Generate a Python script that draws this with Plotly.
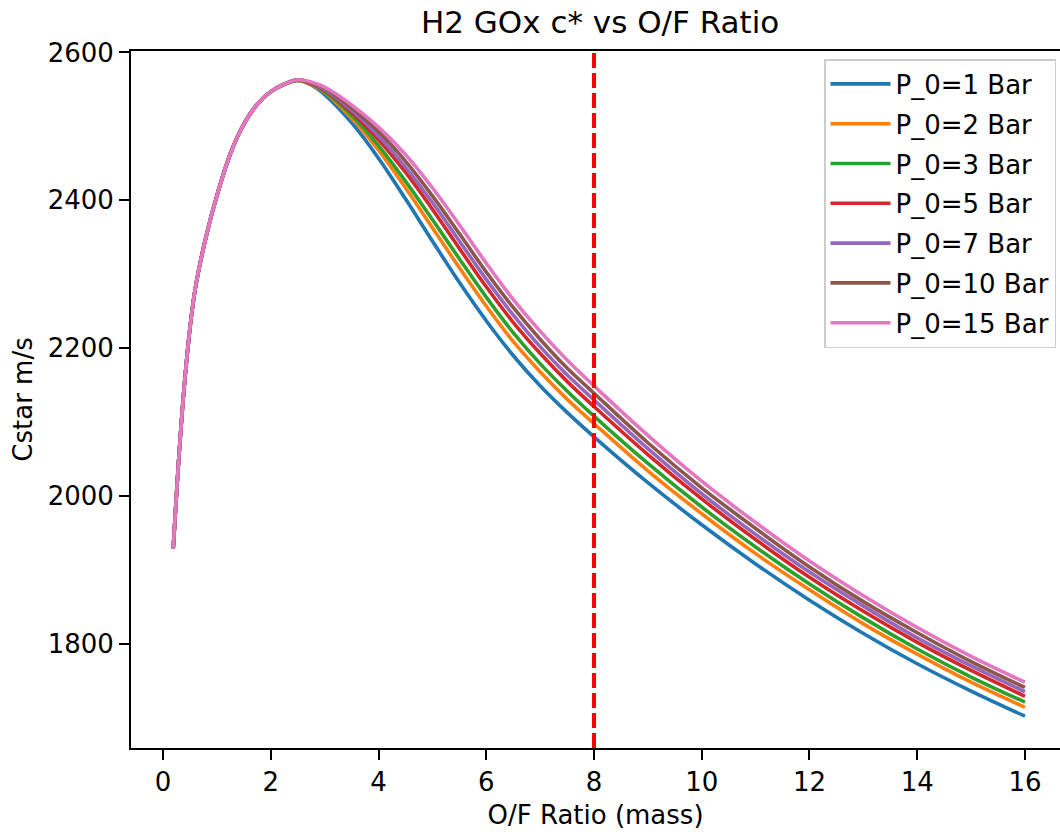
import plotly.graph_objects as go

# O/F mass ratios shared by every chamber-pressure sweep
of_ratio = [0.19, 0.3, 0.4, 0.5, 0.6, 0.8, 1.0, 1.25, 1.5, 1.75, 2.0, 2.25,
            2.5, 2.75, 3.0, 3.5, 4.0, 4.5, 5.0, 5.5, 6.0, 6.5, 7.0, 7.5, 8.0,
            9.0, 10.0, 11.0, 12.0, 13.0, 14.0, 15.0, 16.0]

# fuel-rich branch (O/F 0.19 .. 2.25): identical for all pressures
cstar_rich = [1929, 2058, 2153, 2227, 2281, 2351, 2406, 2463, 2503, 2530, 2547, 2557]

# c* (m/s) from O/F 2.5 upward, one list per chamber pressure
cstar_p1 = [2562, 2556, 2543, 2505, 2457, 2402, 2345, 2289, 2237, 2190, 2149, 2113, 2080,
            2018, 1961, 1908, 1859, 1814, 1773, 1736, 1702]
cstar_p2 = [2562, 2557, 2546, 2511, 2468, 2417, 2363, 2309, 2257, 2209, 2168, 2131, 2098,
            2034, 1976, 1922, 1873, 1827, 1786, 1748, 1714]
cstar_p3 = [2562, 2558, 2547, 2515, 2474, 2426, 2374, 2321, 2269, 2221, 2179, 2142, 2108,
            2044, 1985, 1931, 1881, 1835, 1793, 1755, 1721]
cstar_p5 = [2563, 2558, 2549, 2519, 2482, 2438, 2388, 2335, 2283, 2235, 2193, 2155, 2121,
            2056, 1996, 1941, 1890, 1844, 1802, 1764, 1729]
cstar_p7 = [2563, 2559, 2550, 2522, 2487, 2445, 2397, 2345, 2293, 2245, 2202, 2164, 2130,
            2064, 2003, 1948, 1897, 1851, 1808, 1770, 1735]
cstar_p10 = [2563, 2559, 2552, 2525, 2493, 2453, 2406, 2355, 2303, 2255, 2212, 2173, 2139,
             2072, 2011, 1956, 1904, 1857, 1815, 1776, 1741]
cstar_p15 = [2563, 2560, 2553, 2529, 2499, 2462, 2417, 2367, 2315, 2266, 2223, 2184, 2149,
             2082, 2020, 1964, 1912, 1865, 1822, 1783, 1748]

pressures_bar = [1, 2, 3, 5, 7, 10, 15]
series = [cstar_p1, cstar_p2, cstar_p3, cstar_p5, cstar_p7, cstar_p10, cstar_p15]
colors = ["#1f77b4", "#ff7f0e", "#2ca02c", "#d62728", "#9467bd", "#8c564b", "#e377c2"]

STOICH_OF = 8  # stoichiometric H2/O2 mass ratio

x_ticks = [0, 2, 4, 6, 8, 10, 12, 14, 16]
y_ticks = [1800, 2000, 2200, 2400, 2600]

FONT = "DejaVu Sans"

fig = go.Figure()
for p, tail, col in zip(pressures_bar, series, colors):
    fig.add_trace(go.Scatter(
        x=of_ratio,
        y=cstar_rich + tail,
        mode="lines",
        name=f"P_0={p} Bar",
        legendgroup=f"p{p}",
        line=dict(color=col, width=3.6, shape="spline", smoothing=1.0),
    ))

fig.add_vline(x=STOICH_OF, line=dict(color="#ff0000", width=4, dash="15px,5px"))

axis_common = dict(
    showgrid=False, zeroline=False, showline=True, linecolor="black", linewidth=2,
    ticks="outside", ticklen=10, tickwidth=2, tickcolor="black",
    tickfont=dict(family=FONT, size=26, color="black"),
)

fig.update_layout(
    width=1060, height=832,
    margin=dict(l=131, r=0, t=51, b=84),
    paper_bgcolor="white", plot_bgcolor="white",
    title=dict(text="H2 GOx c* vs O/F Ratio", font=dict(family=FONT, size=31, color="black"),
               xref="paper", x=0.505, xanchor="center",
               yref="container", y=0.973, yanchor="middle"),
    xaxis=dict(range=[-0.594, 16.65], tickvals=x_ticks, mirror=True,
               title=dict(text="O/F Ratio (mass)", font=dict(family=FONT, size=26, color="black"),
                          standoff=10),
               **axis_common),
    yaxis=dict(range=[1659, 2602], tickvals=y_ticks, mirror=False,
               title=dict(text="Cstar m/s", font=dict(family=FONT, size=26, color="black"),
                          standoff=8),
               **axis_common),
    legend=dict(x=0.9957, y=0.9885, xanchor="right", yanchor="top",
                bgcolor="rgba(255,255,255,0.8)", bordercolor="#cccccc", borderwidth=1.5,
                font=dict(family=FONT, size=26, color="black"),
                itemwidth=60, tracegroupgap=3),
    showlegend=True,
)

fig.write_html("out.html")
